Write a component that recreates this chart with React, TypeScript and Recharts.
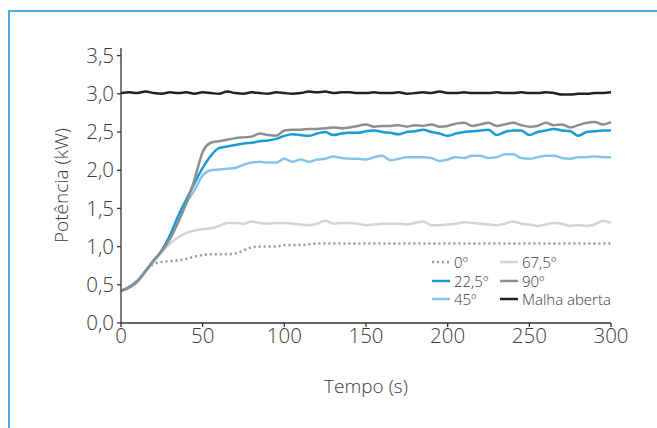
import React from 'react';
import { LineChart, Line, XAxis, YAxis } from 'recharts';

const TIME = [0, 5, 10, 15, 20, 25, 30, 35, 40, 45, 50, 55, 60, 65, 70, 75, 80, 85, 90, 95, 100, 105, 110, 115, 120, 125, 130, 135, 140, 145, 150, 155, 160, 165, 170, 175, 180, 185, 190, 195, 200, 205, 210, 215, 220, 225, 230, 235, 240, 245, 250, 255, 260, 265, 270, 275, 280, 285, 290, 295, 300];

const S_0 = [0.42, 0.47, 0.55, 0.68, 0.77, 0.80, 0.81, 0.82, 0.84, 0.87, 0.89, 0.90, 0.90, 0.90, 0.91, 0.95, 0.99, 1.00, 1.00, 1.00, 1.02, 1.02, 1.02, 1.03, 1.04, 1.04, 1.04, 1.04, 1.04, 1.04, 1.04, 1.04, 1.04, 1.04, 1.04, 1.04, 1.04, 1.04, 1.04, 1.04, 1.04, 1.04, 1.04, 1.04, 1.04, 1.04, 1.04, 1.04, 1.04, 1.04, 1.04, 1.04, 1.04, 1.04, 1.04, 1.04, 1.04, 1.04, 1.04, 1.04, 1.04];
const S_225 = [0.42, 0.47, 0.55, 0.68, 0.82, 0.95, 1.15, 1.40, 1.62, 1.83, 2.03, 2.19, 2.29, 2.31, 2.33, 2.35, 2.36, 2.38, 2.39, 2.41, 2.45, 2.47, 2.46, 2.45, 2.48, 2.50, 2.46, 2.48, 2.49, 2.49, 2.51, 2.52, 2.50, 2.49, 2.47, 2.50, 2.51, 2.53, 2.50, 2.48, 2.45, 2.48, 2.50, 2.51, 2.52, 2.53, 2.46, 2.50, 2.52, 2.52, 2.46, 2.50, 2.52, 2.54, 2.52, 2.51, 2.45, 2.50, 2.51, 2.52, 2.52];
const S_45 = [0.42, 0.46, 0.54, 0.67, 0.81, 0.95, 1.13, 1.36, 1.57, 1.74, 1.93, 2.00, 2.01, 2.02, 2.03, 2.07, 2.10, 2.11, 2.10, 2.10, 2.15, 2.11, 2.14, 2.11, 2.14, 2.15, 2.18, 2.16, 2.15, 2.15, 2.14, 2.17, 2.19, 2.13, 2.15, 2.17, 2.17, 2.17, 2.16, 2.12, 2.14, 2.17, 2.16, 2.19, 2.19, 2.16, 2.17, 2.21, 2.21, 2.16, 2.15, 2.17, 2.19, 2.19, 2.16, 2.15, 2.17, 2.17, 2.18, 2.17, 2.17];
const S_675 = [0.42, 0.47, 0.55, 0.68, 0.81, 0.93, 1.04, 1.12, 1.18, 1.21, 1.23, 1.24, 1.27, 1.31, 1.31, 1.30, 1.33, 1.31, 1.30, 1.31, 1.31, 1.30, 1.29, 1.28, 1.30, 1.34, 1.30, 1.31, 1.31, 1.30, 1.28, 1.29, 1.30, 1.30, 1.30, 1.29, 1.31, 1.33, 1.28, 1.28, 1.29, 1.30, 1.32, 1.31, 1.30, 1.29, 1.28, 1.30, 1.33, 1.30, 1.29, 1.27, 1.29, 1.31, 1.30, 1.27, 1.28, 1.27, 1.29, 1.34, 1.31];
const S_90 = [0.42, 0.47, 0.55, 0.68, 0.82, 0.94, 1.10, 1.32, 1.57, 1.88, 2.24, 2.36, 2.38, 2.40, 2.42, 2.43, 2.44, 2.48, 2.46, 2.45, 2.52, 2.53, 2.53, 2.54, 2.54, 2.55, 2.56, 2.55, 2.56, 2.58, 2.60, 2.57, 2.58, 2.58, 2.59, 2.57, 2.59, 2.58, 2.60, 2.57, 2.58, 2.61, 2.62, 2.58, 2.60, 2.62, 2.58, 2.60, 2.62, 2.59, 2.57, 2.58, 2.62, 2.59, 2.60, 2.56, 2.59, 2.62, 2.63, 2.60, 2.63];
const S_OPEN = [3.01, 3.02, 3.01, 3.03, 3.01, 3.00, 3.02, 3.01, 3.02, 3.00, 3.02, 3.01, 3.00, 3.03, 3.01, 3.00, 3.02, 3.01, 3.00, 3.02, 3.01, 3.00, 3.01, 3.03, 3.02, 3.03, 3.01, 3.02, 3.02, 3.01, 3.01, 3.02, 3.01, 3.01, 3.02, 3.00, 3.01, 3.02, 3.01, 3.03, 3.01, 3.01, 3.02, 3.01, 3.01, 3.01, 3.02, 3.01, 3.01, 3.02, 3.01, 3.01, 3.02, 3.01, 2.99, 2.99, 3.00, 3.00, 3.01, 3.01, 3.02];

const X_TICKS = [0, 50, 100, 150, 200, 250, 300];
const Y_TICKS = [0, 0.5, 1, 1.5, 2, 2.5, 3, 3.5];

const SERIES = [
  { key: 's0', name: '0º', values: S_0, color: '#999999', dash: '2 3' },
  { key: 's225', name: '22,5º', values: S_225, color: '#1a9ad6', dash: undefined },
  { key: 's45', name: '45º', values: S_45, color: '#85c4ea', dash: undefined },
  { key: 's675', name: '67,5º', values: S_675, color: '#d3d3d3', dash: undefined },
  { key: 's90', name: '90º', values: S_90, color: '#8e8e90', dash: undefined },
  { key: 'open', name: 'Malha aberta', values: S_OPEN, color: '#222222', dash: undefined },
];

const DRAW_ORDER = ['s0', 's675', 's45', 's225', 's90', 'open'];

const data = TIME.map((t, i) => {
  const row: any = { t };
  SERIES.forEach((s) => { row[s.key] = s.values[i]; });
  return row;
});

const FONT = "'Open Sans', Lato, sans-serif";
const TEXT = '#3a3a3a';

const fmt = (v: number) => v.toFixed(1).replace('.', ',');

const LEGEND_LAYOUT = [
  ['s0', 's675'],
  ['s225', 's90'],
  ['s45', 'open'],
];

export default function App() {
  return (
    <div style={{ position: 'absolute', left: 0, top: 0, width: 657, height: 428, background: '#fff', fontFamily: FONT }}>
      <div style={{ position: 'absolute', left: 8, top: 10, width: 649, height: 418, borderTop: '2px solid #46aedd', borderLeft: '2px solid #46aedd' }} />
      <LineChart width={657} height={428} data={data} margin={{ top: 48, right: 46, bottom: 75, left: 0 }}>
        <XAxis
          dataKey="t"
          type="number"
          domain={[0, 300]}
          ticks={X_TICKS}
          height={30}
          tickSize={4}
          tickMargin={1}
          axisLine={{ stroke: '#333', strokeWidth: 1.3 }}
          tickLine={{ stroke: '#333', strokeWidth: 1.3 }}
          tick={{ fill: TEXT, fontSize: 20.5, fontFamily: FONT, fontWeight: 300 }}
          label={{
            content: (props: any) => {
              const vb = props.viewBox;
              return (
                <text x={vb.x + vb.width / 2} y={386} textAnchor="middle" dominantBaseline="central" fill={TEXT} fontSize={19} fontFamily={FONT} fontWeight={300}>
                  Tempo (s)
                </text>
              );
            },
          }}
        />
        <YAxis
          type="number"
          domain={[0, 3.6]}
          ticks={Y_TICKS}
          width={121}
          tickSize={4}
          tickMargin={3}
          tickFormatter={fmt}
          axisLine={{ stroke: '#333', strokeWidth: 1.3 }}
          tickLine={{ stroke: '#333', strokeWidth: 1.3 }}
          tick={{ fill: TEXT, fontSize: 20.5, fontFamily: FONT, fontWeight: 300 }}
          label={{
            content: (props: any) => {
              const vb = props.viewBox;
              const cy = vb.y + vb.height / 2;
              return (
                <text x={61} y={cy} transform={`rotate(-90 61 ${cy})`} textAnchor="middle" dominantBaseline="central" fill={TEXT} fontSize={19} fontFamily={FONT} fontWeight={300}>
                  Potência (kW)
                </text>
              );
            },
          }}
        />
        {DRAW_ORDER.map((k) => {
          const s = SERIES.find((x) => x.key === k)!;
          return (
            <Line
              key={s.key}
              dataKey={s.key}
              name={s.name}
              type="monotone"
              stroke={s.color}
              strokeWidth={2.5}
              strokeDasharray={s.dash}
              dot={false}
              activeDot={false}
              isAnimationActive={false}
            />
          );
        })}
      </LineChart>
      <div style={{ position: 'absolute', left: 431, top: 253, fontFamily: FONT, fontWeight: 300, fontSize: 15, color: TEXT }}>
        {LEGEND_LAYOUT.map((row, ri) => (
          <div key={ri} style={{ display: 'flex', height: 18.5, alignItems: 'center' }}>
            {row.map((k, ci) => {
              const s = SERIES.find((x) => x.key === k)!;
              return (
                <div key={k} style={{ display: 'flex', alignItems: 'center', width: ci === 0 ? 68 : 130 }}>
                  <svg width={20} height={6} style={{ marginRight: 3 }}>
                    <line x1={1} y1={3} x2={19} y2={3} stroke={s.color} strokeWidth={2.5} strokeDasharray={s.dash} />
                  </svg>
                  <span style={{ lineHeight: '18px', whiteSpace: 'nowrap' }}>{s.name}</span>
                </div>
              );
            })}
          </div>
        ))}
      </div>
    </div>
  );
}
